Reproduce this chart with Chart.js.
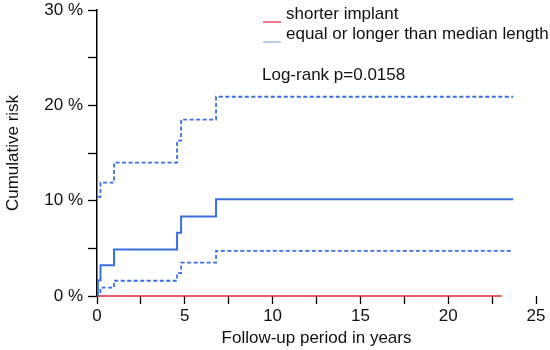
<!DOCTYPE html>
<html>
<head>
<meta charset="utf-8">
<script src="https://cdn.jsdelivr.net/npm/chart.js@4"></script>
<style>
  body { margin: 0; background: #fff; }
  #wrap { width: 550px; height: 350px; }
</style>
</head>
<body>
<div id="wrap"><canvas id="km-chart"></canvas></div>
<script>
// follow-up times (years) where the curves step
const longTimes = [0, 0.05, 0.2, 0.97, 4.56, 4.79, 6.78, 23.7];
const longRisk = [0, 1.65, 3.23, 4.88, 6.63, 8.35, 10.16, 10.16];
const upperTimes = [0.05, 0.2, 0.97, 4.56, 4.79, 6.78, 23.7];
const upperRisk = [10.4, 11.9, 14.0, 16.3, 18.5, 20.9, 20.9];
const lowerTimes = [0, 0.05, 0.2, 0.97, 4.56, 4.79, 6.78, 23.7];
const lowerRisk = [0, 0.3, 0.88, 1.6, 2.4, 3.5, 4.74, 4.74];
const shortTimes = [0, 23.07];
const shortRisk = [0, 0];

const seriesLabels = ['shorter implant', 'equal or longer than median length'];
const pValueText = 'Log-rank p=0.0158';

const RED = '#e5243b';
const BLUE = '#3a6fe0';
const FONT = "'Liberation Sans', Arial, Helvetica, sans-serif";

function toPoints(xs, ys) {
    return xs.map((x, i) => ({ x: x, y: ys[i] }));
}

// legend + log-rank text drawn inside the plot
const notesPlugin = {
    id: 'notes',
    afterDraw(chart) {
        const ctx = chart.ctx;
        ctx.save();
        ctx.font = '17px ' + FONT;
        ctx.fillStyle = '#111';
        ctx.textBaseline = 'middle';
        const colors = [RED, '#8eaee9'];
        seriesLabels.forEach((label, i) => {
            const y = 14 + i * 20;
            ctx.strokeStyle = colors[i];
            ctx.lineWidth = 1.2;
            ctx.beginPath();
            ctx.moveTo(263, y + 8);
            ctx.lineTo(281, y + 8);
            ctx.stroke();
            ctx.fillText(label, 286, y);
        });
        ctx.fillText(pValueText, 262, 75);
        ctx.restore();
    }
};

const ctx = document.getElementById('km-chart').getContext('2d');

new Chart(ctx, {
    type: 'line',
    data: {
        datasets: [
            {
                label: seriesLabels[1],
                data: toPoints(longTimes, longRisk),
                borderColor: BLUE,
                borderWidth: 2,
                stepped: true,
                pointRadius: 0
            },
            {
                label: 'upper',
                data: toPoints(upperTimes, upperRisk),
                borderColor: BLUE,
                borderWidth: 1.8,
                borderDash: [4, 2.5],
                stepped: true,
                pointRadius: 0
            },
            {
                label: 'lower',
                data: toPoints(lowerTimes, lowerRisk),
                borderColor: BLUE,
                borderWidth: 1.8,
                borderDash: [4, 2.5],
                stepped: true,
                pointRadius: 0
            },
            {
                label: seriesLabels[0],
                data: toPoints(shortTimes, shortRisk),
                borderColor: RED,
                borderWidth: 1.6,
                pointRadius: 0,
                clip: false
            }
        ]
    },
    plugins: [notesPlugin],
    options: {
        responsive: true,
        maintainAspectRatio: false,
        animation: false,
        layout: { padding: { top: 10, right: 14, left: 3, bottom: 0 } },
        plugins: {
            legend: { display: false },
            tooltip: { enabled: false }
        },
        scales: {
            x: {
                type: 'linear',
                min: 0,
                max: 25,
                border: { display: false },
                grid: {
                    drawOnChartArea: false,
                    color: '#000',
                    tickLength: 8,
                    tickWidth: 1.3
                },
                ticks: {
                    stepSize: 2.5,
                    autoSkip: false,
                    maxRotation: 0,
                    color: '#111',
                    padding: 2,
                    font: { family: FONT, size: 17 },
                    callback: v => (v % 5 === 0 ? String(v) : '')
                },
                title: {
                    display: true,
                    text: 'Follow-up period in years',
                    color: '#111',
                    padding: { top: 0, bottom: 1 },
                    font: { family: FONT, size: 17 }
                },
                afterFit: s => { s.height = 54; }
            },
            y: {
                min: 0,
                max: 30,
                border: { display: true, color: '#000', width: 1.5 },
                grid: {
                    drawOnChartArea: false,
                    color: '#000',
                    tickLength: 9,
                    tickWidth: 1.3
                },
                ticks: {
                    stepSize: 5,
                    autoSkip: false,
                    color: '#111',
                    padding: 5,
                    font: { family: FONT, size: 17 },
                    callback: v => (v % 10 === 0 ? v + ' %' : '')
                },
                title: {
                    display: true,
                    text: 'Cumulative risk',
                    color: '#111',
                    padding: { top: 0, bottom: 6 },
                    font: { family: FONT, size: 17 }
                },
                afterFit: s => { s.width = 94; s.paddingTop = 0; }
            }
        }
    }
});
</script>
</body>
</html>
